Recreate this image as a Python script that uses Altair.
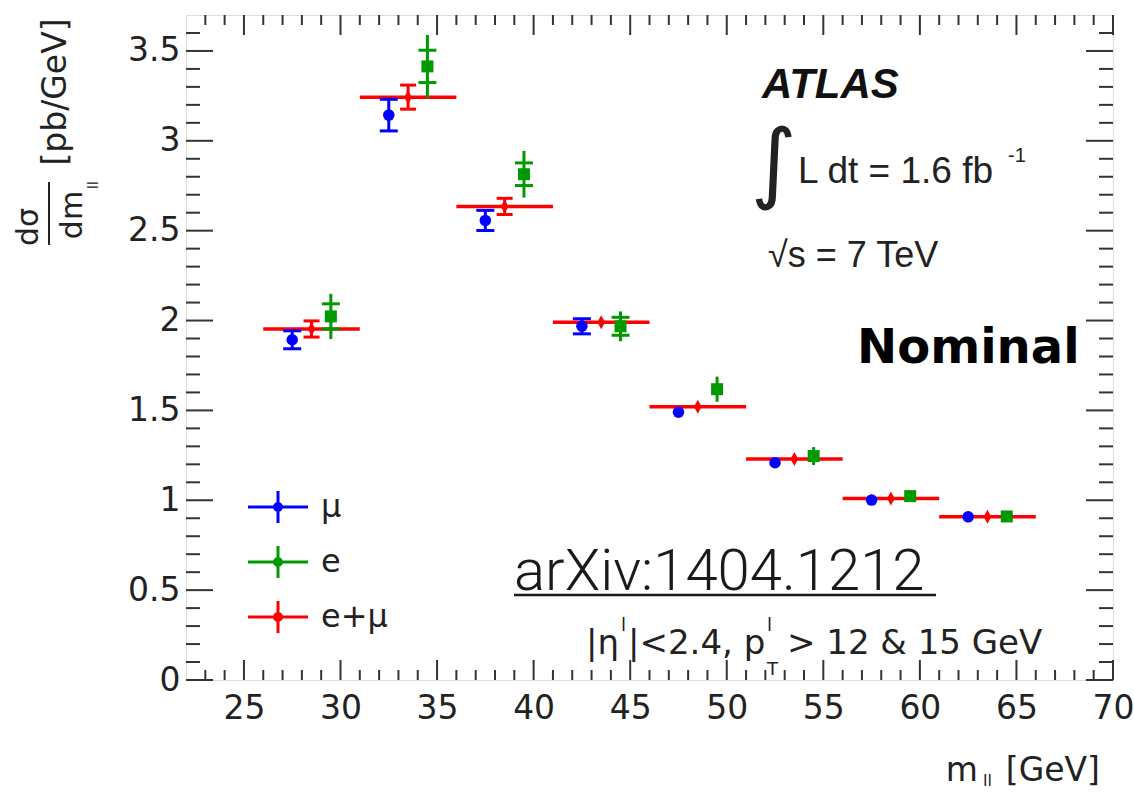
import altair as alt
import pandas as pd

# ---------------- data ----------------
bin_lo = [26, 31, 36, 41, 46, 51, 56, 61]
bin_hi = [31, 36, 41, 46, 51, 56, 61, 66]

mu_val = [1.893, 3.143, 2.557, 1.968, 1.490, 1.209, 1.001, 0.908]
mu_err = [0.050, 0.088, 0.056, 0.042, 0.015, 0.012, 0.010, 0.010]

e_val = [2.023, 3.414, 2.814, 1.968, 1.618, 1.246, 1.023, 0.910]
e_err_stat = [0.070, 0.090, 0.063, 0.050, 0.030, 0.020, 0.015, 0.015]
e_err_tot = [0.126, 0.175, 0.130, 0.083, 0.070, 0.050, 0.030, 0.025]

comb_val = [1.953, 3.243, 2.635, 1.990, 1.521, 1.230, 1.010, 0.908]
comb_err = [0.045, 0.067, 0.045, 0.020, 0.015, 0.012, 0.010, 0.010]

series_names = ["μ", "e", "e+μ"]
series_colors = ["#0000ff", "#009a00", "#ff0000"]

x_major = [25, 30, 35, 40, 45, 50, 55, 60, 65, 70]
x_minor = [v for v in range(23, 70) if v % 5 != 0]
y_major = [0, 0.5, 1, 1.5, 2, 2.5, 3, 3.5]
y_minor = [round(i * 0.1, 1) for i in range(1, 37) if i % 5 != 0]

# ---------------- layout ----------------
W, H = 927, 665
BLUE, GREEN, RED = series_colors
TICK = "#333333"
TXT = "#222222"

df = pd.DataFrame({
    "lo": bin_lo, "hi": bin_hi,
    "mu": mu_val, "mu_e": mu_err,
    "e": e_val, "e_s": e_err_stat, "e_t": e_err_tot,
    "c": comb_val, "c_e": comb_err,
})
# displayed marker positions inside each bin (offset as in the figure)
df["x_mu"] = df["lo"] + 1.5
df["x_c"] = df["lo"] + 2.5
df["x_e"] = df["lo"] + 3.5
df["mu_lo"] = df["mu"] - df["mu_e"]
df["mu_hi"] = df["mu"] + df["mu_e"]
df["c_lo"] = df["c"] - df["c_e"]
df["c_hi"] = df["c"] + df["c_e"]
df["e_slo"] = df["e"] - df["e_s"]
df["e_shi"] = df["e"] + df["e_s"]
df["e_tlo"] = df["e"] - df["e_t"]
df["e_thi"] = df["e"] + df["e_t"]

xs = alt.Scale(domain=[22, 70], nice=False, zero=False)
ys = alt.Scale(domain=[0, 3.7], nice=False, zero=True)
xaxis = alt.Axis(values=x_major, title=None, ticks=False, domain=False, grid=False,
                 labelFont="DejaVu Sans", labelFontSize=33, labelColor=TXT,
                 labelPadding=12, labelFlush=False, labelOverlap=False, format="~g")
yaxis = alt.Axis(values=y_major, title=None, ticks=False, domain=False, grid=False,
                 labelFont="DejaVu Sans", labelFontSize=33, labelColor=TXT,
                 labelPadding=6, labelOverlap=False, format="~g")


def X(f):
    return alt.X(f, type="quantitative", scale=xs, axis=xaxis)


def Y(f):
    return alt.Y(f, type="quantitative", scale=ys, axis=yaxis)


base = alt.Chart(df)
layers = []


# frame ticks (inward, all four sides)
def xticks(vals, length):
    d = alt.Chart(pd.DataFrame({"v": vals}))
    return [
        d.mark_rule(color=TICK, strokeWidth=2).encode(x=X("v"), y=alt.value(H), y2=alt.value(H - length)),
        d.mark_rule(color=TICK, strokeWidth=2).encode(x=X("v"), y=alt.value(0), y2=alt.value(length)),
    ]


def yticks(vals, length):
    d = alt.Chart(pd.DataFrame({"v": vals}))
    return [
        d.mark_rule(color=TICK, strokeWidth=2).encode(y=Y("v"), x=alt.value(0), x2=alt.value(length)),
        d.mark_rule(color=TICK, strokeWidth=2).encode(y=Y("v"), x=alt.value(W), x2=alt.value(W - length)),
    ]


layers += xticks(x_major, 20) + xticks(x_minor, 10)
layers += yticks(y_major, 27) + yticks(y_minor, 14)

# red bin-width bars
layers.append(base.mark_rule(color=RED, strokeWidth=3.5).encode(x=X("lo"), x2="hi", y=Y("c")))

# blue (mu)
layers.append(base.mark_rule(color=BLUE, strokeWidth=3).encode(x=X("x_mu"), y=Y("mu_lo"), y2="mu_hi"))
for col in ["mu_lo", "mu_hi"]:
    layers.append(base.transform_filter(alt.datum.mu_e > 0.03)
                  .mark_tick(orient="horizontal", size=18, thickness=3, color=BLUE, opacity=1)
                  .encode(x=X("x_mu"), y=Y(col)))
layers.append(base.mark_point(shape="circle", filled=True, size=133, color=BLUE, opacity=1)
              .encode(x=X("x_mu"), y=Y("mu")))

# red (e+mu)
layers.append(base.mark_rule(color=RED, strokeWidth=3).encode(x=X("x_c"), y=Y("c_lo"), y2="c_hi"))
for col in ["c_lo", "c_hi"]:
    layers.append(base.transform_filter(alt.datum.c_e > 0.03)
                  .mark_tick(orient="horizontal", size=16, thickness=3, color=RED, opacity=1)
                  .encode(x=X("x_c"), y=Y(col)))
layers.append(base.mark_point(shape="M0,-1L0.55,0L0,1L-0.55,0Z", filled=True, size=196, color=RED, opacity=1)
              .encode(x=X("x_c"), y=Y("c")))

# green (e): total error line, stat crossbars, square marker
layers.append(base.mark_rule(color=GREEN, strokeWidth=3).encode(x=X("x_e"), y=Y("e_tlo"), y2="e_thi"))
for col in ["e_slo", "e_shi"]:
    layers.append(base.transform_filter(alt.datum.e_s > 0.04)
                  .mark_tick(orient="horizontal", size=18, thickness=3, color=GREEN, opacity=1)
                  .encode(x=X("x_e"), y=Y(col)))
layers.append(base.mark_point(shape="square", filled=True, size=144, color=GREEN, opacity=1)
              .encode(x=X("x_e"), y=Y("e")))

# legend (real Vega legend, custom cross+dot symbol)
LEG = ("M-2,-0.1H2V0.1H-2Z M-0.1,-1.07H0.1V1.07H-0.1Z "
       "M-0.33,0A0.33,0.33 0 1,1 0.33,0A0.33,0.33 0 1,1 -0.33,0Z")
layers.append(
    alt.Chart(pd.DataFrame({"series": series_names}))
    .transform_filter("false")
    .mark_point(shape=LEG, filled=True, size=900, opacity=1)
    .encode(color=alt.Color("series:N", scale=alt.Scale(domain=series_names, range=series_colors),
                            legend=alt.Legend(orient="none", legendX=76, legendY=476, title=None,
                                              direction="vertical", symbolType=LEG, symbolSize=900,
                                              symbolStrokeWidth=0, labelFont="DejaVu Sans",
                                              labelFontSize=32, labelColor=TXT, labelOffset=27,
                                              rowPadding=21, padding=0)))
)


# ---------------- text annotations ----------------
def label(txt, x, y, size, font="DejaVu Sans", weight="normal", style="normal",
          align="left", baseline="alphabetic", angle=0, color=TXT):
    return (alt.Chart(pd.DataFrame({"t": [txt]}))
            .mark_text(align=align, baseline=baseline, font=font, fontSize=size,
                       fontWeight=weight, fontStyle=style, angle=angle, color=color)
            .encode(x=alt.value(x), y=alt.value(y), text="t:N"))


layers += [
    label("ATLAS", 576, 83, 42, font="Liberation Sans", weight="bold", style="italic", color="#111111"),
    label("∫", 588, 151, 88, baseline="middle", align="center"),
    label("L dt = 1.6 fb", 612, 168, 37, font="Liberation Sans"),
    label("-1", 822, 147, 20, font="Liberation Sans"),
    label("√s = 7 TeV", 582, 252, 36, font="Liberation Sans"),
    label("Nominal", 671, 348, 48, weight="bold", color="#000000"),
    label("arXiv:1404.1212", 328, 575, 58, font="Roboto", weight=300, color="#1a1a1a"),
    alt.Chart(pd.DataFrame({"a": [0]})).mark_rule(color="#1a1a1a", strokeWidth=2.5)
    .encode(x=alt.value(328), x2=alt.value(750), y=alt.value(580)),
    # |eta^l| < 2.4, p_T^l > 12 & 15 GeV
    label("|η", 400, 639, 34),
    label("l", 435, 616, 18),
    label("|<2.4, p", 442, 639, 34),
    label("l", 581, 616, 18),
    label("T", 581, 660, 18),
    label("> 12 & 15 GeV", 601, 639, 34),
    # x title  m_ll [GeV]
    label("[GeV]", 914, 766, 33, align="right"),
    label("m", 792, 766, 33, align="right"),
    label("ll", 797, 771, 16),
    # y title  dσ/dm_ll [pb/GeV]
    label("dσ", -148, 212, 30, align="center", angle=270),
    alt.Chart(pd.DataFrame({"a": [0]})).mark_rule(color=TXT, strokeWidth=2)
    .encode(x=alt.value(-137), y=alt.value(167), y2=alt.value(230)),
    label("dm", -104, 200, 30, align="center", angle=270),
    label("ll", -88, 170, 14, align="center", angle=270),
    label("[pb/GeV]", -120, 77, 33, align="center", angle=270),
]

chart = (
    alt.layer(*layers)
    .properties(width=W, height=H, autosize=alt.AutoSizeParams(type="none"),
                padding={"left": 186, "top": 15, "right": 21, "bottom": 112})
    .configure_view(stroke="#333333", strokeWidth=2.5)
    .configure(background="white")
)

chart.save("out.html", embed_options={"renderer": "svg", "actions": False})
